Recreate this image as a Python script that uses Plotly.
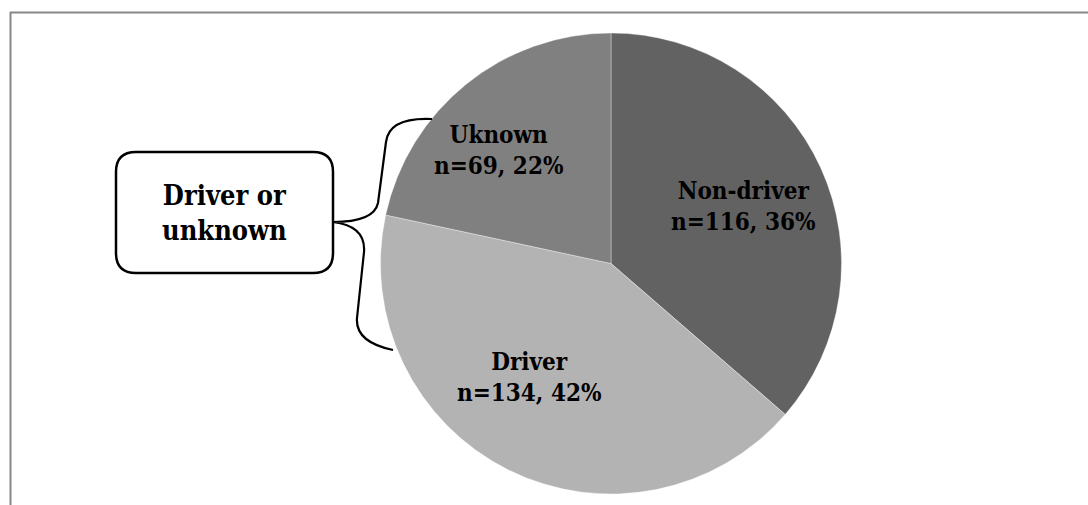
import math
import plotly.graph_objects as go

# ---- data ----
categories = ["Non-driver", "Driver", "Uknown"]
counts = [116, 134, 69]
percents = ["36%", "42%", "22%"]
slice_colors = ["#626262", "#b3b3b3", "#808080"]
callout_text = "Driver or<br>unknown"

W, H = 1088, 505
FONT = "DejaVu Serif Condensed, DejaVu Serif"


def px(x):
    return x / W


def py(y):
    return 1 - y / H


# pie geometry (pixels)
cx, cy, r = 611, 263.5, 230.5

fig = go.Figure(
    go.Pie(
        labels=categories,
        values=counts,
        textinfo="none",
        marker=dict(colors=slice_colors, line=dict(color="rgba(255,255,255,0.35)", width=1)),
        sort=False,
        direction="clockwise",
        rotation=0,
        hoverinfo="skip",
        domain=dict(x=[px(cx - r), px(cx + r)], y=[py(cy + r), py(cy - r)]),
    )
)

# slice labels: placed along each slice's bisector (computed from the values),
# with a small best-fit nudge like the original chart
label_frac = 0.62
label_nudge = [(2, 2), (-18, -14), (-23, -2)]
total = sum(counts)
annotations = []
cum = 0
for cat, n, p, (ndx, ndy) in zip(categories, counts, percents, label_nudge):
    mid = (cum + n / 2) / total * 2 * math.pi
    cum += n
    lx = cx + label_frac * r * math.sin(mid) + ndx
    ly = cy - label_frac * r * math.cos(mid) + ndy
    annotations.append(dict(
        text=f"<b>{cat}<br>n={n}, {p}</b>", x=px(lx), y=py(ly),
        xref="paper", yref="paper", xanchor="center", yanchor="middle",
        showarrow=False, align="center",
        font=dict(family=FONT, size=24, color="black"),
    ))

# rounded callout box
bx0, bx1, by0, by1, rr = 116, 333, 152, 273, 20
box = (
    f"M {px(bx0 + rr)},{py(by0)} L {px(bx1 - rr)},{py(by0)} "
    f"Q {px(bx1)},{py(by0)} {px(bx1)},{py(by0 + rr)} "
    f"L {px(bx1)},{py(by1 - rr)} Q {px(bx1)},{py(by1)} {px(bx1 - rr)},{py(by1)} "
    f"L {px(bx0 + rr)},{py(by1)} Q {px(bx0)},{py(by1)} {px(bx0)},{py(by1 - rr)} "
    f"L {px(bx0)},{py(by0 + rr)} Q {px(bx0)},{py(by0)} {px(bx0 + rr)},{py(by0)} Z"
)

# curly brace
brace = (
    f"M {px(432)},{py(119)} Q {px(389)},{py(117)} {px(386)},{py(142)} "
    f"L {px(378)},{py(203)} Q {px(374)},{py(222)} {px(333)},{py(222)} "
    f"M {px(333)},{py(222)} Q {px(366)},{py(226)} {px(364)},{py(252)} "
    f"L {px(357)},{py(318)} Q {px(355)},{py(342)} {px(393)},{py(350)}"
)

shapes = [
    dict(type="path", xref="paper", yref="paper", path=box,
         line=dict(color="black", width=2.5), fillcolor="white", layer="above"),
    dict(type="path", xref="paper", yref="paper", path=brace,
         line=dict(color="black", width=2.2), layer="above"),
    # outer frame (top + left)
    dict(type="line", xref="paper", yref="paper", x0=px(10), x1=1, y0=py(12.5), y1=py(12.5),
         line=dict(color="#878787", width=2)),
    dict(type="line", xref="paper", yref="paper", x0=px(10.5), x1=px(10.5), y0=py(12), y1=0,
         line=dict(color="#878787", width=2)),
]

annotations.append(dict(
    text=f"<b>{callout_text}</b>", x=px((bx0 + bx1) / 2), y=py((by0 + by1) / 2 + 1),
    xref="paper", yref="paper", xanchor="center", yanchor="middle",
    showarrow=False, align="center",
    font=dict(family=FONT, size=27, color="black"),
))

fig.update_layout(
    width=W, height=H,
    margin=dict(l=0, r=0, t=0, b=0),
    paper_bgcolor="white", plot_bgcolor="white",
    showlegend=False,
    shapes=shapes,
    annotations=annotations,
)

fig.write_html("out.html")
